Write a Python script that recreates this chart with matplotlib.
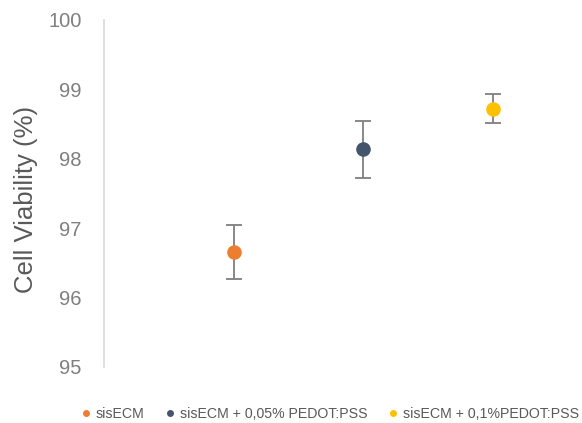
import matplotlib
matplotlib.use("Agg")
import matplotlib.pyplot as plt
from matplotlib.lines import Line2D

plt.rcParams["font.family"] = ["Liberation Sans", "DejaVu Sans"]

labels = ["sisECM", "sisECM + 0,05% PEDOT:PSS", "sisECM + 0,1%PEDOT:PSS"]
positions = [1, 2, 3]
viability = [96.66, 98.14, 98.72]
errors = [0.39, 0.41, 0.21]
colors = ["#ED7D31", "#44546A", "#FFC000"]
yticks = [95, 96, 97, 98, 99, 100]

fig = plt.figure(figsize=(5.82, 4.23), dpi=100)
ax = fig.add_axes([104/582, 1 - 367/423, 454/582, 347/423])

for x, v, e, c in zip(positions, viability, errors, colors):
    ax.errorbar(x, v, yerr=e, fmt="none", ecolor="#7F7F7F", elinewidth=1.3,
                capsize=5.5, capthick=1.3, zorder=2)
    ax.plot(x, v, "o", color=c, markersize=10.5, markeredgewidth=0, zorder=3)

ax.set_xlim(0, 3.5)
ax.set_ylim(95, 100)
ax.set_yticks(yticks)
ax.set_yticklabels([str(t) for t in yticks], fontsize=14.5, color="#7F7F7F")
ax.tick_params(axis="y", length=0, pad=16)
ax.set_xticks([])
for s in ["top", "right", "bottom"]:
    ax.spines[s].set_visible(False)
ax.spines["left"].set_color("#D9D9D9")
ax.spines["left"].set_linewidth(1.2)
ax.set_ylabel("Cell Viability (%)", fontsize=18.5, color="#595959")
ax.yaxis.set_label_coords(-(104 - 38) / 454, 1 - (199 - 20) / 347)

handles = [Line2D([], [], marker="o", linestyle="none", color=c,
                  markersize=5, markeredgewidth=0) for c in colors]
fig.legend(handles, labels, loc="center", bbox_to_anchor=(0.565, 1 - 414/423),
           ncol=3, frameon=False, fontsize=10.2, handletextpad=0.2,
           columnspacing=1.3, labelcolor="#595959", handlelength=1.0)

fig.savefig("out.png", dpi=100)
